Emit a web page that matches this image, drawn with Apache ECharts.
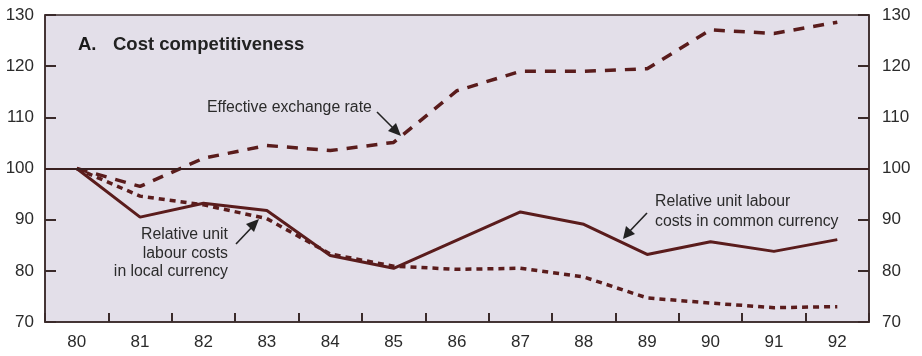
<!DOCTYPE html>
<html>
<head>
<meta charset="utf-8">
<script src="https://cdn.jsdelivr.net/npm/echarts@6/dist/echarts.min.js"></script>
<style>
html,body{margin:0;padding:0;background:#fff;}
#c{width:922px;height:356px;}
</style>
</head>
<body>
<div id="c"></div>
<script>
var years = ['80','81','82','83','84','85','86','87','88','89','90','91','92'];
var yTicks = [70, 80, 90, 100, 110, 120, 130];
var exchangeRate = [100, 96.5, 102.0, 104.5, 103.5, 105.1, 115.2, 119.0, 119.0, 119.5, 127.1, 126.4, 128.6];
var ulcLocal = [100, 94.6, 92.9, 90.2, 83.3, 80.9, 80.3, 80.5, 78.8, 74.7, 73.7, 72.8, 73.0];
var ulcCommon = [100, 90.5, 93.2, 91.8, 83.0, 80.5, 86.0, 91.5, 89.1, 83.2, 85.7, 83.8, 86.1];

var lineColor = '#5a1c1c';
var textColor = '#2b2b2b';
var fontFam = '"Liberation Sans", Arial, Helvetica, sans-serif';
var noteFont = '15.8px ' + fontFam;

var chart = echarts.init(document.getElementById('c'), null, {renderer: 'canvas'});

function yAxisDef(pos) {
  return {
    type: 'value', position: pos, min: yTicks[0], max: yTicks[yTicks.length - 1], interval: 10,
    axisLine: {show: true, lineStyle: {color: '#3a2a2a', width: 1.5}},
    axisTick: {show: true, inside: true, length: 11, lineStyle: {color: '#3a2a2a', width: 2}},
    axisLabel: {color: textColor, fontSize: 17, fontFamily: fontFam, margin: pos === 'left' ? 11 : 13},
    splitLine: {show: false}
  };
}

chart.setOption({
  animation: false,
  backgroundColor: '#ffffff',
  grid: {left: 45, right: 53, top: 15, bottom: 34, show: true, backgroundColor: '#e3dfe9', borderColor: '#3a2a2a', borderWidth: 1.5},
  xAxis: {
    type: 'category', data: years, boundaryGap: true,
    axisLine: {show: true, lineStyle: {color: '#3a2a2a', width: 1.5}},
    axisTick: {show: true, inside: true, length: 9, alignWithLabel: false, lineStyle: {color: '#3a2a2a', width: 2}},
    axisLabel: {color: textColor, fontSize: 17, fontFamily: fontFam, margin: 12}
  },
  yAxis: [yAxisDef('left'), yAxisDef('right')],
  series: [
    {
      name: 'Effective exchange rate', type: 'line', data: exchangeRate, symbol: 'none', smooth: false,
      lineStyle: {color: lineColor, width: 3.5, type: [11, 9]},
      markLine: {
        silent: true, symbol: 'none', label: {show: false},
        lineStyle: {color: '#3a2020', width: 1.8, type: 'solid'},
        data: [{yAxis: 100}]
      },
      z: 3
    },
    {
      name: 'Relative unit labour costs in local currency', type: 'line', data: ulcLocal, symbol: 'none',
      lineStyle: {color: lineColor, width: 3.5, type: [6, 5]}, z: 3
    },
    {
      name: 'Relative unit labour costs in common currency', type: 'line', data: ulcCommon, symbol: 'none',
      lineStyle: {color: lineColor, width: 3}, z: 4
    }
  ],
  graphic: [
    {type: 'text', x: 78, y: 45, style: {text: 'A.', fill: '#1a1a1a', font: 'bold 18.5px ' + fontFam, verticalAlign: 'middle'}},
    {type: 'text', x: 113, y: 45, style: {text: 'Cost competitiveness', fill: '#222', font: 'bold 18.5px ' + fontFam, verticalAlign: 'middle'}},
    {type: 'text', x: 207, y: 108, style: {text: 'Effective exchange rate', fill: textColor, font: noteFont, verticalAlign: 'middle'}},
    {type: 'line', shape: {x1: 377, y1: 112, x2: 396, y2: 131}, style: {stroke: '#222', lineWidth: 1.6}},
    {type: 'polygon', shape: {points: [[401, 136], [388, 131], [396, 123]]}, style: {fill: '#222'}},
    {type: 'text', x: 228, y: 235, style: {text: 'Relative unit', fill: textColor, font: noteFont, align: 'right', verticalAlign: 'middle'}},
    {type: 'text', x: 228, y: 253.5, style: {text: 'labour costs', fill: textColor, font: noteFont, align: 'right', verticalAlign: 'middle'}},
    {type: 'text', x: 228, y: 272, style: {text: 'in local currency', fill: textColor, font: noteFont, align: 'right', verticalAlign: 'middle'}},
    {type: 'line', shape: {x1: 236, y1: 244, x2: 254, y2: 225}, style: {stroke: '#222', lineWidth: 1.6}},
    {type: 'polygon', shape: {points: [[259, 219], [254, 232], [246, 224]]}, style: {fill: '#222'}},
    {type: 'text', x: 655, y: 202, style: {text: 'Relative unit labour', fill: textColor, font: noteFont, verticalAlign: 'middle'}},
    {type: 'text', x: 655, y: 222, style: {text: 'costs in common currency', fill: textColor, font: noteFont, verticalAlign: 'middle'}},
    {type: 'line', shape: {x1: 647, y1: 213, x2: 628, y2: 233}, style: {stroke: '#222', lineWidth: 1.6}},
    {type: 'polygon', shape: {points: [[623, 239], [626, 226], [635, 234]]}, style: {fill: '#222'}}
  ]
});
</script>
</body>
</html>
